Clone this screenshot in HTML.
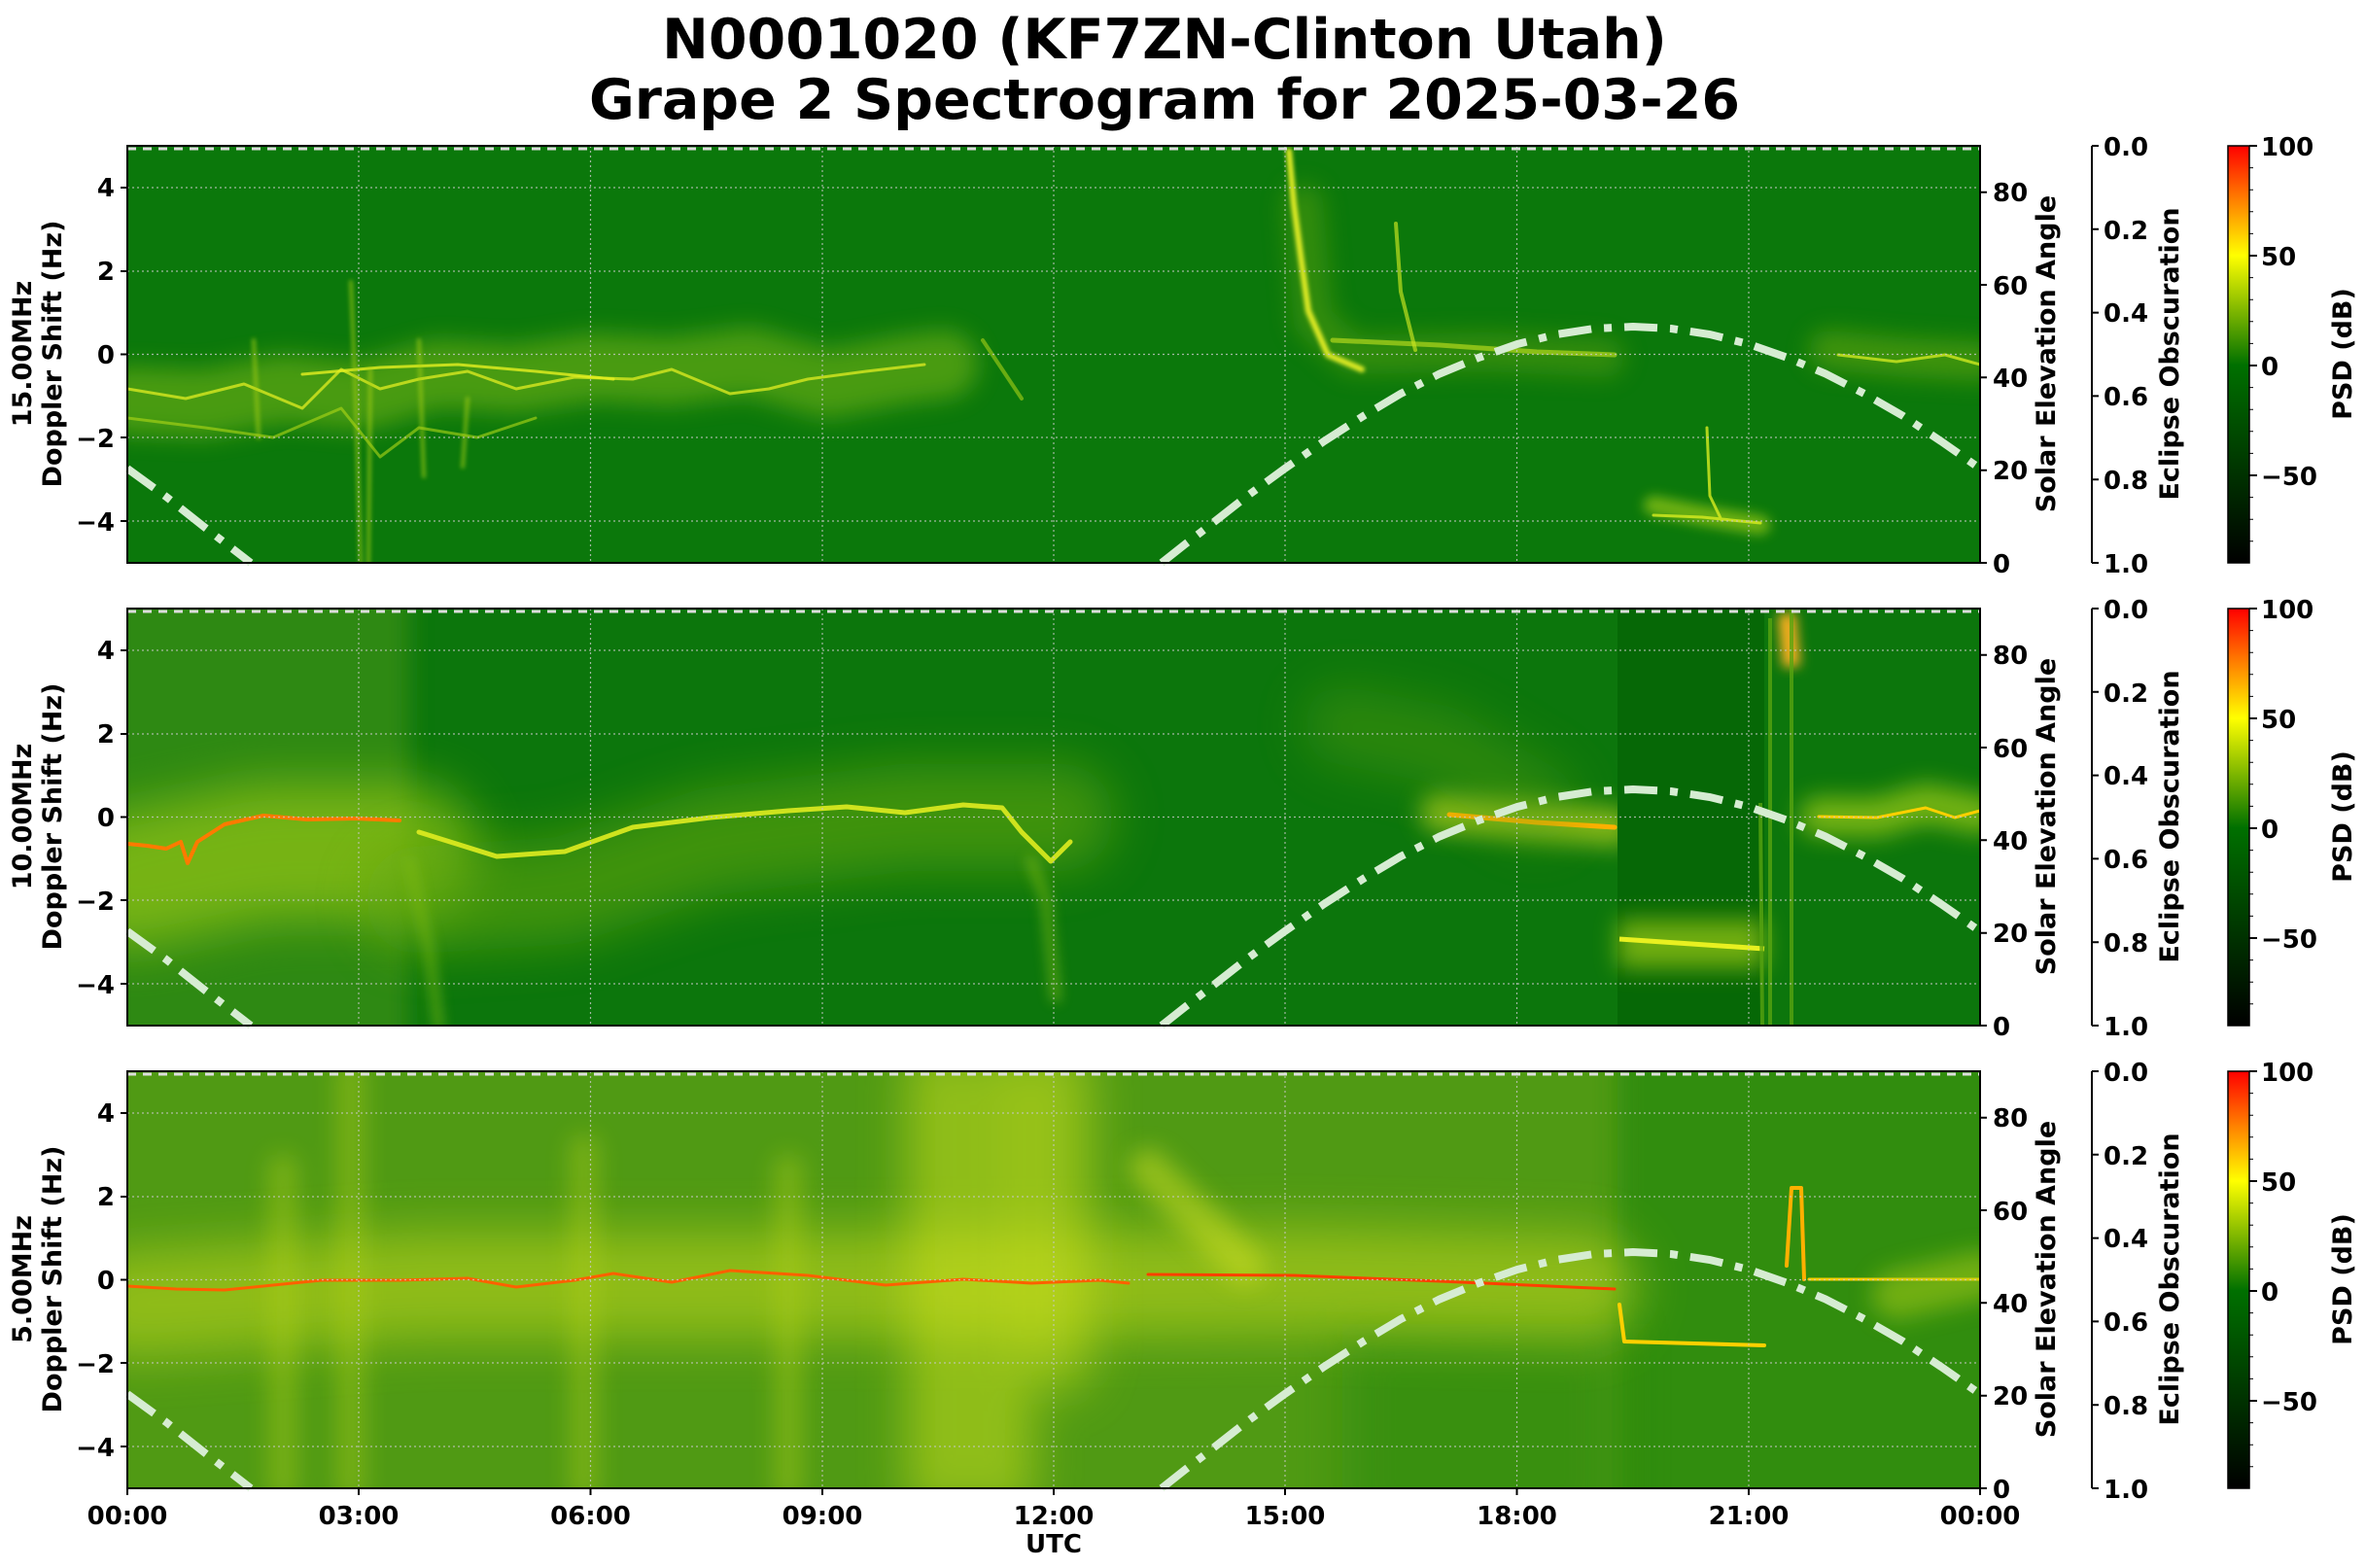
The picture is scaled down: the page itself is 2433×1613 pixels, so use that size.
<!DOCTYPE html>
<html><head><meta charset="utf-8"><style>
html,body{margin:0;padding:0;background:#fff}
svg{display:block}
text{font-family:"DejaVu Sans","Liberation Sans",sans-serif;font-weight:bold;fill:#000}
</style></head><body>
<svg width="2433" height="1613" viewBox="0 0 2433 1613" xmlns="http://www.w3.org/2000/svg">
<defs>
<clipPath id="cp"><rect x="0" y="0" width="1906" height="429"/></clipPath>
<filter id="b12" filterUnits="userSpaceOnUse" x="-300" y="-300" width="2600" height="1100"><feGaussianBlur stdDeviation="12"/></filter>
<filter id="b6" filterUnits="userSpaceOnUse" x="-300" y="-300" width="2600" height="1100"><feGaussianBlur stdDeviation="6"/></filter>
<filter id="b2" filterUnits="userSpaceOnUse" x="-300" y="-300" width="2600" height="1100"><feGaussianBlur stdDeviation="2"/></filter>
<filter id="b25" filterUnits="userSpaceOnUse" x="-300" y="-300" width="2600" height="1100"><feGaussianBlur stdDeviation="25"/></filter>
<linearGradient id="cmap" x1="0" y1="0" x2="0" y2="1">
<stop offset="0" stop-color="#ff0000"/><stop offset="0.13" stop-color="#ff8000"/>
<stop offset="0.263" stop-color="#ffff00"/><stop offset="0.526" stop-color="#007000"/>
<stop offset="1" stop-color="#000000"/></linearGradient>
<g id="grid">
<g stroke="#c8c8c8" stroke-width="1.2" stroke-dasharray="2 3" opacity="0.8">
<line x1="0" y1="43" x2="1906" y2="43"/><line x1="0" y1="129" x2="1906" y2="129"/>
<line x1="0" y1="214.5" x2="1906" y2="214.5"/><line x1="0" y1="300" x2="1906" y2="300"/>
<line x1="0" y1="386" x2="1906" y2="386"/>
<line x1="238" y1="0" x2="238" y2="429"/><line x1="476.5" y1="0" x2="476.5" y2="429"/>
<line x1="715" y1="0" x2="715" y2="429"/><line x1="953" y1="0" x2="953" y2="429"/>
<line x1="1191" y1="0" x2="1191" y2="429"/><line x1="1429.5" y1="0" x2="1429.5" y2="429"/>
<line x1="1668" y1="0" x2="1668" y2="429"/></g>
<line x1="0" y1="3" x2="1906" y2="3" stroke="#dddddd" stroke-width="3" stroke-dasharray="9 7"/>
<g fill="none" stroke="#d6ecd2" stroke-width="8" stroke-dasharray="34 13 8 13">
<path d="M1064,429 L1088,410 L1112,391.6 L1151,361 L1191,331.8 L1231,304 L1271,278.3 L1310,255 L1350,234.5 L1390,218 L1430,204 L1470,194 L1509,188 L1549,186 L1588,188 L1628,194 L1668,204 L1708,218 L1747,234.5 L1787,255 L1827,278 L1866,304 L1906,332"/>
<path d="M0,332 L40,361 L79,392 L127,429"/></g>
<rect x="0" y="0" width="1906" height="429" fill="none" stroke="#000" stroke-width="2"/>
</g>
</defs>

<text x="1198" y="60" font-size="57" text-anchor="middle">N0001020 (KF7ZN-Clinton Utah)</text>
<text x="1198" y="122" font-size="57" text-anchor="middle">Grape 2 Spectrogram for 2025-03-26</text>

<!-- PANEL 1 -->
<g transform="translate(131,150)">
<g clip-path="url(#cp)">
<rect width="1906" height="429" fill="#0b780b"/>
<g fill="none" stroke-linecap="round" stroke-linejoin="round">
<path d="M0,262 L80,265 L160,250 L240,258 L320,235 L400,240 L480,228 L560,232 L640,222 L720,245 L800,230 L840,225" stroke="#7cb812" stroke-width="70" opacity="0.55" filter="url(#b12)"/>
<path d="M1210,60 L1220,180 L1260,215 L1400,212 L1520,218" stroke="#5aa010" stroke-width="40" opacity="0.5" filter="url(#b12)"/>
<path d="M1750,210 L1830,218 L1906,222" stroke="#6aaa10" stroke-width="40" opacity="0.55" filter="url(#b12)"/>
<path d="M0,250 L60,260 L120,245 L180,270 L220,230 L260,250 L300,240 L350,232 L400,250 L460,238 L520,240 L560,230 L620,255 L660,250 L700,240 L760,232 L820,225" stroke="#d8e820" stroke-width="3" opacity="0.8"/>
<path d="M180,235 L260,228 L340,225 L420,232 L500,240" stroke="#e6f020" stroke-width="3" opacity="0.8"/>
<path d="M0,280 L80,290 L150,300 L220,270 L260,320 L300,290 L360,300 L420,280" stroke="#b0d818" stroke-width="3" opacity="0.6"/>
<path d="M230,140 L235,260 L240,429 M250,230 L248,429 M300,200 L305,340 M350,260 L345,330 M130,200 L135,300" stroke="#a8d018" stroke-width="4" opacity="0.6" filter="url(#b2)"/>
<path d="M1195,5 L1200,60 L1208,120 L1215,170 L1235,215 L1270,230" stroke="#e8f028" stroke-width="6" filter="url(#b2)"/>
<path d="M1305,80 L1310,150 L1325,210" stroke="#c0e020" stroke-width="4" opacity="0.7"/>
<path d="M1240,200 L1350,205 L1450,212 L1530,215" stroke="#c8e420" stroke-width="5" opacity="0.6"/>
<path d="M1570,370 L1620,380 L1680,390" stroke="#b0d818" stroke-width="20" opacity="0.6" filter="url(#b6)"/>
<path d="M1625,290 L1628,360 L1640,385 M1570,380 L1620,382 L1680,388" stroke="#d8ec20" stroke-width="3" opacity="0.8"/>
<path d="M1760,215 L1820,222 L1870,215 L1906,225" stroke="#d0e820" stroke-width="3" opacity="0.8"/>
<path d="M880,200 L900,230 L920,260" stroke="#a8d018" stroke-width="4" opacity="0.6"/>
</g></g>
<use href="#grid"/>
</g>

<!-- PANEL 2 -->
<g transform="translate(131,626)">
<g clip-path="url(#cp)">
<rect width="1906" height="429" fill="#0c760c"/>
<rect x="-40" y="-40" width="330" height="520" fill="#3c9212" opacity="0.7" filter="url(#b12)"/>
<g fill="none" stroke-linecap="round" stroke-linejoin="round">
<path d="M0,280 L140,250 L290,250" stroke="#a6d018" stroke-width="140" opacity="0.6" filter="url(#b25)"/>
<path d="M300,300 L450,290 L600,240 L800,215 L960,215" stroke="#60a610" stroke-width="110" opacity="0.6" filter="url(#b25)"/>
<path d="M300,230 L380,255 L450,250 L520,225 L600,215 L680,208 L740,204 L800,210 L860,202 L900,205 L920,230 L950,260 L970,240" stroke="#e0ec20" stroke-width="5" opacity="0.9"/>
<path d="M0,242 L20,244 L40,247 L55,240 L62,262 L72,240 L100,222 L140,213 L185,217 L235,216 L280,218" stroke="#ff7a00" stroke-width="4"/>
<path d="M1350,210 L1450,218 L1530,225" stroke="#d0e020" stroke-width="40" opacity="0.6" filter="url(#b12)"/>
<path d="M1360,212 L1450,220 L1530,225" stroke="#ffb000" stroke-width="5"/>
<path d="M1250,120 L1350,140 L1450,200" stroke="#5aa010" stroke-width="80" opacity="0.4" filter="url(#b25)"/>
<path d="M1740,214 L1800,215 L1850,200 L1906,212" stroke="#b8dc18" stroke-width="40" opacity="0.6" filter="url(#b12)"/>
<path d="M1740,214 L1800,215 L1850,205 L1880,215 L1906,208" stroke="#ffd000" stroke-width="3"/>
<path d="M930,260 L945,300 L955,400 M290,260 L310,350 L320,429" stroke="#80bc14" stroke-width="12" opacity="0.5" filter="url(#b6)"/>
</g>
<rect x="1533" y="0" width="151" height="429" fill="#066806"/>
<g fill="none">
<path d="M1533,345 L1684,345" stroke="#b8dc18" stroke-width="50" opacity="0.6" filter="url(#b12)"/>
<path d="M1535,340 L1684,350" stroke="#e8f020" stroke-width="5"/>
<path d="M1707,5 L1712,60" stroke="#ffb020" stroke-width="18" filter="url(#b6)"/>
<path d="M1690,10 L1690,429 M1712,0 L1712,429 M1680,200 L1682,429" stroke="#58a410" stroke-width="4" opacity="0.8"/>
</g></g>
<use href="#grid"/>
</g>

<!-- PANEL 3 -->
<g transform="translate(131,1102)">
<g clip-path="url(#cp)">
<rect width="1906" height="429" fill="#509a14"/>
<rect x="1533" y="-50" width="420" height="530" fill="#2a8a0e" opacity="0.8" filter="url(#b12)"/>
<rect x="1250" y="260" width="283" height="220" fill="#2a8a0e" opacity="0.6" filter="url(#b25)"/>
<g fill="none" stroke-linecap="round" stroke-linejoin="round">
<path d="M0,240 L300,220 L600,220 L1000,218 L1200,215 L1500,222" stroke="#c2d81c" stroke-width="110" opacity="0.55" filter="url(#b25)"/>
<path d="M834,0 L834,429 M900,0 L900,429 M960,0 L960,300" stroke="#d0e21c" stroke-width="60" opacity="0.55" filter="url(#b25)"/>
<path d="M230,0 L230,429 M470,80 L470,429 M160,100 L160,429 M680,100 L680,429" stroke="#b0d018" stroke-width="30" opacity="0.4" filter="url(#b12)"/>
<path d="M1050,100 L1100,150 L1150,200" stroke="#d0e020" stroke-width="40" opacity="0.5" filter="url(#b12)"/>
<path d="M0,221 L50,224 L100,225 L150,220 L200,215 L280,215 L350,213 L400,222 L460,215 L500,208 L560,217 L620,205 L700,210 L780,220 L860,214 L930,218 L1000,215 L1030,218" stroke="#ff6000" stroke-width="3"/>
<path d="M1050,209 L1200,210 L1350,216 L1530,224" stroke="#ff4000" stroke-width="3"/>
<path d="M1535,240 L1540,278 L1684,282" stroke="#ffd000" stroke-width="4"/>
<path d="M1707,200 L1712,120 L1722,120 L1725,214" stroke="#ffb000" stroke-width="4"/>
<path d="M1730,214 L1906,214" stroke="#ffd000" stroke-width="3"/>
<path d="M1820,230 L1906,210" stroke="#b0d018" stroke-width="50" opacity="0.5" filter="url(#b12)"/>
</g></g>
<use href="#grid"/>
</g>

<!-- Left ticks & labels -->
<g font-size="26" text-anchor="end">
<g transform="translate(0,150)"><text x="118" y="52">4</text><text x="118" y="138">2</text><text x="118" y="224">0</text><text x="118" y="310">−2</text><text x="118" y="396">−4</text></g>
<g transform="translate(0,626)"><text x="118" y="52">4</text><text x="118" y="138">2</text><text x="118" y="224">0</text><text x="118" y="310">−2</text><text x="118" y="396">−4</text></g>
<g transform="translate(0,1102)"><text x="118" y="52">4</text><text x="118" y="138">2</text><text x="118" y="224">0</text><text x="118" y="310">−2</text><text x="118" y="396">−4</text></g>
</g>
<g stroke="#000" stroke-width="2">
<path d="M124,193H131M124,279H131M124,364.5H131M124,450H131M124,536H131"/>
<path d="M124,669H131M124,755H131M124,840.5H131M124,926H131M124,1012H131"/>
<path d="M124,1145H131M124,1231H131M124,1316.5H131M124,1402H131M124,1488H131"/>
</g>
<g font-size="27" text-anchor="middle">
<text transform="translate(32,364) rotate(-90)">15.00MHz</text>
<text transform="translate(63,364) rotate(-90)">Doppler Shift (Hz)</text>
<text transform="translate(32,840) rotate(-90)">10.00MHz</text>
<text transform="translate(63,840) rotate(-90)">Doppler Shift (Hz)</text>
<text transform="translate(32,1316) rotate(-90)">5.00MHz</text>
<text transform="translate(63,1316) rotate(-90)">Doppler Shift (Hz)</text>
</g>

<!-- Right axes for each panel -->
<g id="rax">
<g stroke="#000" stroke-width="2">
<path d="M2037,579H2044M2037,483.7H2044M2037,388.3H2044M2037,293H2044M2037,197.7H2044"/>
<path d="M2152,150V579M2152,150H2159M2152,235.8H2159M2152,321.6H2159M2152,407.4H2159M2152,493.2H2159M2152,579H2159"/>
</g>
<g font-size="26">
<text x="2050" y="589">0</text><text x="2050" y="493">20</text><text x="2050" y="398">40</text><text x="2050" y="303">60</text><text x="2050" y="207">80</text>
<text x="2164" y="160">0.0</text><text x="2164" y="246">0.2</text><text x="2164" y="331">0.4</text><text x="2164" y="417">0.6</text><text x="2164" y="503">0.8</text><text x="2164" y="589">1.0</text>
</g>
<g font-size="27" text-anchor="middle">
<text transform="translate(2114,364) rotate(-90)">Solar Elevation Angle</text>
<text transform="translate(2241,364) rotate(-90)">Eclipse Obscuration</text>
<text transform="translate(2419,364) rotate(-90)">PSD (dB)</text>
</g>
<rect x="2292" y="150" width="22" height="429" fill="url(#cmap)" stroke="#000" stroke-width="1.5"/>
<g stroke="#000" stroke-width="2">
<path d="M2314,150H2322M2314,263H2322M2314,376H2322M2314,489H2322"/>
<path stroke-width="1" d="M2314,172.6H2318M2314,195.2H2318M2314,217.8H2318M2314,240.4H2318M2314,285.6H2318M2314,308.2H2318M2314,330.8H2318M2314,353.4H2318M2314,398.6H2318M2314,421.2H2318M2314,443.8H2318M2314,466.4H2318M2314,511.6H2318M2314,534.2H2318M2314,556.8H2318"/>
</g>
<g font-size="26">
<text x="2326" y="160">100</text><text x="2326" y="273">50</text><text x="2326" y="386">0</text><text x="2326" y="499">−50</text>
</g>
</g>
<use href="#rax" transform="translate(0,476)"/>
<use href="#rax" transform="translate(0,952)"/>

<!-- Bottom x ticks -->
<g stroke="#000" stroke-width="2">
<path d="M131,1531V1538M369,1531V1538M607.5,1531V1538M846,1531V1538M1084,1531V1538M1322,1531V1538M1560.5,1531V1538M1799,1531V1538M2037,1531V1538"/>
</g>
<g font-size="26" text-anchor="middle">
<text x="131" y="1568">00:00</text><text x="369" y="1568">03:00</text><text x="607.5" y="1568">06:00</text>
<text x="846" y="1568">09:00</text><text x="1084" y="1568">12:00</text><text x="1322" y="1568">15:00</text>
<text x="1560.5" y="1568">18:00</text><text x="1799" y="1568">21:00</text><text x="2037" y="1568">00:00</text>
<text x="1084" y="1597" font-size="26">UTC</text>
</g>
</svg>
</body></html>
